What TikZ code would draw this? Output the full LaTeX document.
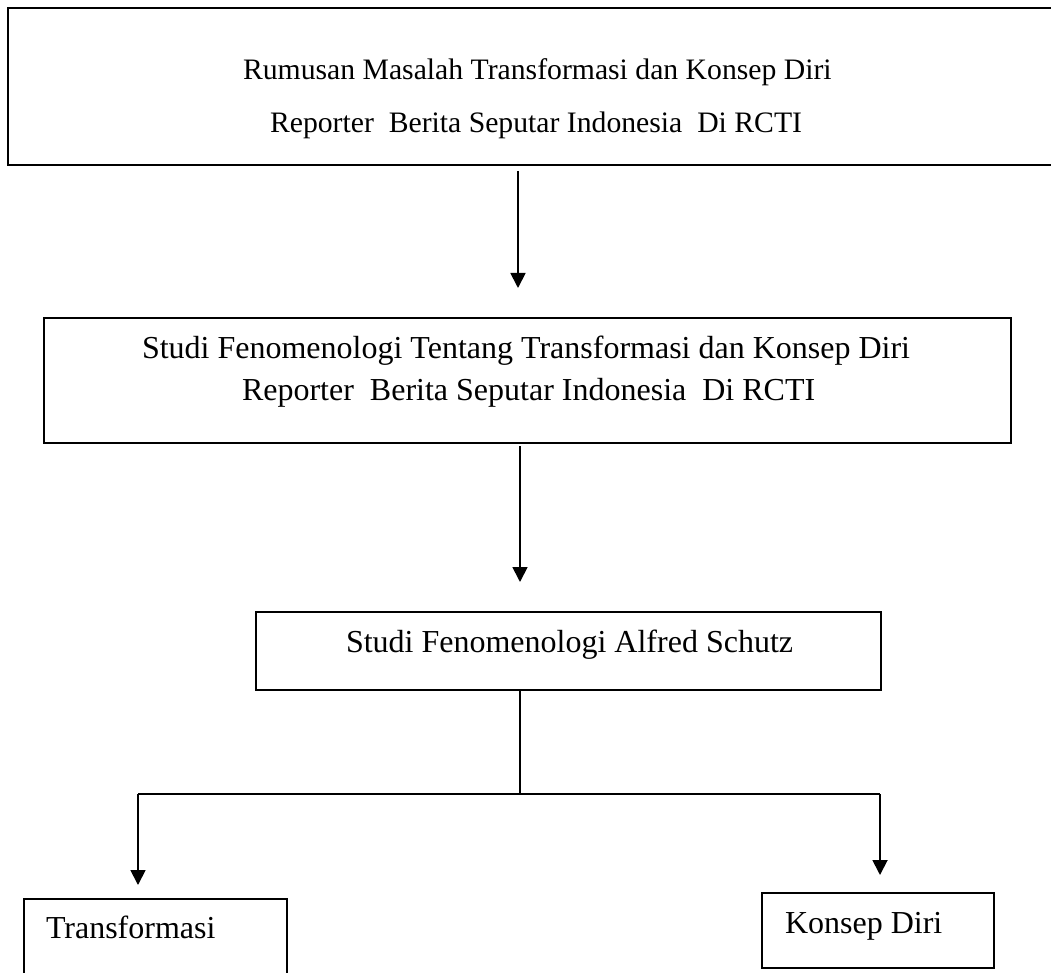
\documentclass[tikz,border=0pt]{standalone}
\usepackage{fontspec}
\setmainfont{Liberation Serif}
\usetikzlibrary{arrows.meta}
\tikzset{
  box/.style={draw, line width=1.8pt, rectangle, inner sep=0pt, outer sep=0pt, anchor=north west},
  txt/.style={inner sep=0pt, outer sep=0pt, anchor=base west, font=\fontsize{32pt}{38pt}\selectfont},
  txtsmall/.style={inner sep=0pt, outer sep=0pt, anchor=base west, font=\fontsize{29.7pt}{36pt}\selectfont},
  arr/.style={line width=1.8pt, -{Triangle[width=15pt,length=15pt]}},
  conn/.style={line width=1.6pt}
}
\begin{document}
\begin{tikzpicture}[x=1pt,y=-1pt]
\useasboundingbox (0,0) rectangle (1051,973);
\clip (0,0) rectangle (1051,973);
% boxes
\node[box, minimum width=1060pt, minimum height=157pt] (top) at (8,8) {};
\node[box, minimum width=967pt, minimum height=125pt] (box2) at (44,318) {};
\node[box, minimum width=625pt, minimum height=78pt] (box3) at (256,612) {};
\node[box, minimum width=263pt, minimum height=100pt] (trans) at (24,899) {};
\node[box, minimum width=232pt, minimum height=75pt] (konsep) at (762,893) {};
% texts
\node[txtsmall] (t1a) at (243,80) {Rumusan Masalah Transformasi dan Konsep Diri};
\node[txtsmall] (t1b) at (270,133) {Reporter\ \ Berita Seputar Indonesia\ \ Di RCTI};
\node[txt] (t2a) at (142,358) {Studi Fenomenologi Tentang Transformasi dan Konsep Diri};
\node[txt] (t2b) at (242,400) {Reporter\ \ Berita Seputar Indonesia\ \ Di RCTI};
\node[txt] (t3) at (346,652) {Studi Fenomenologi Alfred Schutz};
\node[txt] (t4) at (46,938) {Transformasi};
\node[txt] (t5) at (785,933) {Konsep Diri};
% connector coordinates
\coordinate (a1) at (518,0);
\coordinate (a2) at (520,0);
\coordinate (j) at (520,794);
\coordinate (jl) at (138,794);
\coordinate (jr) at (880,794);
% connectors
\draw[arr] ([yshift=-6pt]top.south -| a1) -- ([yshift=30pt]box2.north -| a1);
\draw[arr] ([yshift=-3pt]box2.south -| a2) -- ([yshift=30pt]box3.north -| a2);
\draw[conn] (box3.south -| j) -- (j);
\draw[conn] (jl) -- (jr);
\draw[arr] (jl) -- ([yshift=14pt]trans.north -| jl);
\draw[arr] (jr) -- ([yshift=18pt]konsep.north -| jr);
\end{tikzpicture}
\end{document}
